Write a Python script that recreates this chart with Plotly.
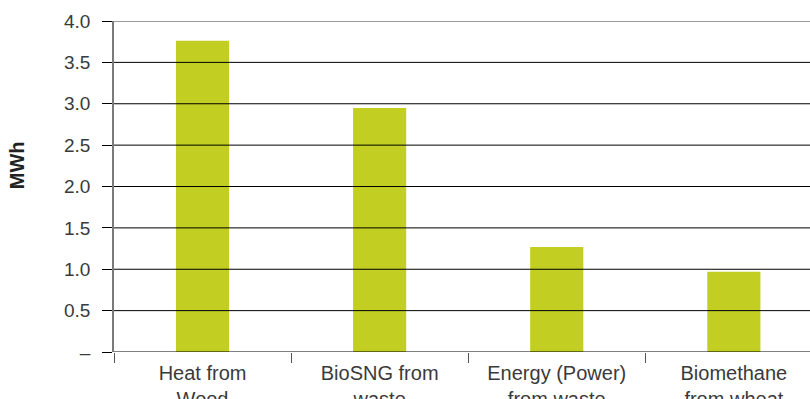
import plotly.graph_objects as go

categories = ["Heat from<br>Wood", "BioSNG from<br>waste", "Energy (Power)<br>from waste", "Biomethane<br>from wheat"]
values = [3.76, 2.95, 1.27, 0.97]
y_tickvals = [0, 0.5, 1.0, 1.5, 2.0, 2.5, 3.0, 3.5, 4.0]
y_ticktext = ["–", "0.5", "1.0", "1.5", "2.0", "2.5", "3.0", "3.5", "4.0"]

BAR = "#C2CF22"
FONT = "Liberation Sans, Arial, sans-serif"

fig = go.Figure(go.Bar(x=categories, y=values, marker_color=BAR, marker_line_width=0))

shapes = []
for v in y_tickvals:
    top = v == y_tickvals[-1]
    shapes.append(dict(type="line", xref="x domain", yref="y", x0=0, x1=1, y0=v, y1=v,
                       line=dict(color="#7a7a7a" if top else "#000000", width=1.6 if top else 1),
                       layer="above"))

fig.add_annotation(text="<b>MWh</b>", textangle=-90, xref="paper", yref="paper",
                   x=-0.139, y=0.565, xanchor="center", yanchor="middle", showarrow=False,
                   font=dict(size=20, color="#222222", family=FONT))

fig.update_layout(
    width=810, height=399,
    margin=dict(l=114, r=0, t=21, b=47, autoexpand=False),
    paper_bgcolor="white", plot_bgcolor="white",
    bargap=0.7,
    showlegend=False,
    shapes=shapes,
    font=dict(family=FONT, color="#3a3a3a", size=19),
    xaxis=dict(
        range=[-0.5, 3.43], tickson="boundaries", ticks="outside", ticklen=10,
        tickcolor="#555555", tickwidth=1, showgrid=False, showline=False,
        tickfont=dict(size=20, color="#3a3a3a"), zeroline=False,
        ticklabelstandoff=7, automargin=False,
    ),
    yaxis=dict(
        range=[0, 4], tickvals=y_tickvals, ticktext=y_ticktext, ticks="outside",
        ticklen=10, tickcolor="#000000", tickwidth=1, showgrid=False, zeroline=False,
        showline=True, linecolor="#7a7a7a", linewidth=1.5,
        tickfont=dict(size=19, color="#3a3a3a"),
        ticklabelstandoff=8, automargin=False,
    ),
)

fig.write_html("out.html")
